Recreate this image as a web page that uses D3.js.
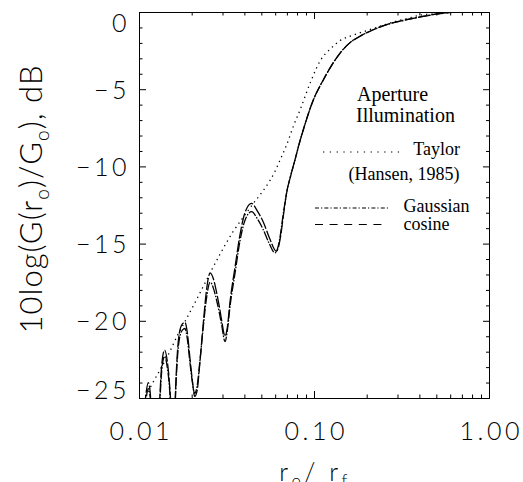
<!DOCTYPE html>
<html>
<head>
<meta charset="utf-8">
<script src="https://cdn.jsdelivr.net/npm/d3@7"></script>
<style>
  body { margin: 0; background: #fff; }
  .tick-label { font-family: Lato, "DejaVu Sans", sans-serif; font-weight: 300; font-size: 25px; letter-spacing: 3.5px; fill: #000; }
  .legend { font-family: "Liberation Serif", "Times New Roman", serif; fill: #000; }
</style>
</head>
<body>
<svg id="chart" width="523" height="482"></svg>
<script>
const xMajor = [0.01, 0.1, 1];
const xMajorLabels = ["0.01", "0.10", "1.00"];
const xMinor = [0.02, 0.03, 0.04, 0.05, 0.06, 0.07, 0.08, 0.09, 0.2, 0.3, 0.4, 0.5, 0.6, 0.7, 0.8, 0.9];
const yMajor = [0, -5, -10, -15, -20, -25];
const yMajorLabels = ["0", "\u22125", "\u221210", "\u221215", "\u221220", "\u221225"];
const yMinor = [-1, -2, -3, -4, -6, -7, -8, -9, -11, -12, -13, -14, -16, -17, -18, -19, -21, -22, -23, -24];

// Taylor (Hansen, 1985), dotted
const taylorR = [0.0100, 0.0108, 0.0115, 0.0130, 0.0147, 0.0165, 0.0182, 0.0205, 0.0223, 0.0255, 0.0290, 0.0346, 0.0394, 0.0450, 0.0510, 0.0561, 0.0600, 0.0639, 0.0698, 0.0762, 0.0832, 0.0949, 0.108, 0.125, 0.141, 0.167, 0.200, 0.238, 0.284, 0.339, 0.404, 0.500, 0.600, 0.800, 1.0];
const taylorDb = [-26.2, -25.0, -24.4, -23.3, -22.2, -21.0, -20.1, -19.0, -18.2, -16.9, -15.7, -14.2, -13.3, -12.4, -11.6, -10.9, -10.3, -9.6, -8.6, -7.4, -6.35, -4.62, -3.2, -2.35, -1.85, -1.5, -1.21, -0.93, -0.65, -0.43, -0.21, -0.11, -0.02, 0, 0];

// Gaussian, dash-dot
const gaussianR = [0.0101, 0.0106, 0.0110, 0.0113, 0.0116, 0.0120, 0.0125, 0.0129, 0.0132, 0.0135, 0.0140, 0.0145, 0.0149, 0.0152, 0.0155, 0.0158, 0.0161, 0.0165, 0.0170, 0.0177, 0.0183, 0.0189, 0.0195, 0.0202, 0.0208, 0.0215, 0.0222, 0.0232, 0.0242, 0.0255, 0.0268, 0.0278, 0.0288, 0.0297, 0.0310, 0.0320, 0.0331, 0.0354, 0.0378, 0.0403, 0.0440, 0.0475, 0.0513, 0.0555, 0.0598, 0.0620, 0.0639, 0.0665, 0.0698, 0.0740, 0.0778, 0.0820, 0.0868, 0.0991, 0.113, 0.1234, 0.141, 0.160, 0.183, 0.218, 0.260, 0.339, 0.420, 0.525, 0.650, 0.800, 1.0];
const gaussianDb = [-31, -27, -25.0, -24.4, -25.0, -28, -33, -28, -25.0, -23.2, -22.3, -23.0, -24.2, -25.8, -29, -29, -25.5, -22.8, -21.2, -20.6, -20.5, -21.2, -22.6, -24.0, -24.7, -24.2, -22.8, -20.6, -18.7, -17.5, -18.0, -18.7, -19.5, -20.3, -21.35, -20.6, -19.1, -16.9, -14.8, -13.5, -12.93, -13.4, -14.1, -15.0, -15.6, -15.3, -14.6, -13.2, -11.7, -10.5, -9.59, -8.6, -7.64, -5.7, -4.4, -3.63, -2.66, -2.0, -1.57, -1.15, -0.82, -0.5, -0.28, -0.11, 0, 0, 0];

// cosine, dashed
const cosineR = [0.0101, 0.0106, 0.0110, 0.0113, 0.0116, 0.0120, 0.0125, 0.0129, 0.0132, 0.0135, 0.0140, 0.0145, 0.0149, 0.0152, 0.0155, 0.0158, 0.0161, 0.0165, 0.0170, 0.0177, 0.0183, 0.0189, 0.0195, 0.0202, 0.0208, 0.0215, 0.0222, 0.0232, 0.0242, 0.0255, 0.0268, 0.0278, 0.0288, 0.0297, 0.0310, 0.0320, 0.0331, 0.0354, 0.0378, 0.0403, 0.0440, 0.0475, 0.0513, 0.0555, 0.0610, 0.0645, 0.0670, 0.0698, 0.0740, 0.0778, 0.0820, 0.0868, 0.0991, 0.113, 0.1234, 0.141, 0.160, 0.183, 0.218, 0.260, 0.339, 0.420, 0.525, 0.650, 0.800, 1.0];
const cosineDb = [-31, -26.6, -24.6, -24.0, -24.7, -28, -33, -27.5, -24.6, -22.8, -21.9, -22.6, -23.9, -25.5, -29, -29, -25.2, -22.4, -20.8, -20.2, -20.1, -20.8, -22.3, -23.9, -24.9, -24.5, -22.9, -20.4, -18.2, -16.9, -17.4, -18.2, -19.1, -20.0, -21.0, -20.4, -18.8, -16.5, -14.4, -13.0, -12.4, -12.9, -13.6, -14.6, -15.5, -14.5, -13.1, -11.7, -10.5, -9.59, -8.6, -7.64, -5.7, -4.4, -3.63, -2.66, -2.0, -1.57, -1.15, -0.82, -0.5, -0.28, -0.11, 0, 0, 0];

const plot = { left: 139, right: 489, top: 12, bottom: 398 };

const svg = d3.select("#chart");

const x = d3.scaleLog().domain([0.01, 1]).range([plot.left, plot.right]);
const y = d3.scaleLinear().domain([-25, 0]).range([plot.bottom, plot.top]);

function drawAxis(axis, tx, ty) {
    const g = svg.append("g")
        .attr("transform", `translate(${tx},${ty})`)
        .call(axis);
    g.select(".domain").attr("stroke", "#000").attr("stroke-width", 1);
    g.selectAll(".tick line").attr("stroke", "#000").attr("stroke-width", 1);
    return g;
}

// bottom
const xBottom = drawAxis(d3.axisBottom(x).tickValues(xMajor).tickSize(-7).tickSizeOuter(0).tickPadding(24)
    .tickFormat((d, i) => xMajorLabels[i]), 0, plot.bottom);
xBottom.selectAll("text").attr("class", "tick-label").attr("font-size", null).attr("font-family", null)
    .attr("dx", "1.75px");
drawAxis(d3.axisBottom(x).tickValues(xMinor).tickSize(-3.5).tickSizeOuter(0).tickFormat(""), 0, plot.bottom);

// top
drawAxis(d3.axisTop(x).tickValues(xMajor).tickSize(-7).tickSizeOuter(0).tickFormat(""), 0, plot.top);
drawAxis(d3.axisTop(x).tickValues(xMinor).tickSize(-3.5).tickSizeOuter(0).tickFormat(""), 0, plot.top);

// left
const yLeft = drawAxis(d3.axisLeft(y).tickValues(yMajor).tickSize(-7).tickSizeOuter(0).tickPadding(9)
    .tickFormat((d, i) => yMajorLabels[i]), plot.left, 0);
yLeft.selectAll("text").attr("class", "tick-label").attr("font-size", null).attr("font-family", null)
    .attr("y", d => d === 0 ? 11 : d === -25 ? -8 : 1);
drawAxis(d3.axisLeft(y).tickValues(yMinor).tickSize(-3.5).tickSizeOuter(0).tickFormat(""), plot.left, 0);

// right
drawAxis(d3.axisRight(y).tickValues(yMajor).tickSize(-6).tickSizeOuter(0).tickFormat(""), plot.right, 0);
drawAxis(d3.axisRight(y).tickValues(yMinor).tickSize(-3).tickSizeOuter(0).tickFormat(""), plot.right, 0);

// axis titles
const yTitle = svg.append("text")
    .attr("class", "tick-label")
    .attr("transform", `translate(42,${(65 + 334) / 2}) rotate(-90)`)
    .attr("text-anchor", "middle")
    .attr("textLength", 268)
    .attr("lengthAdjust", "spacing")
    .style("font-size", "31px")
    .style("letter-spacing", "0px");
yTitle.append("tspan").text("10log(G(r");
yTitle.append("tspan").attr("dy", 7).style("font-size", "19px").text("o");
yTitle.append("tspan").attr("dy", -7).text(")/G");
yTitle.append("tspan").attr("dy", 7).style("font-size", "19px").text("o");
yTitle.append("tspan").attr("dy", -7).text("),  dB");

const xTitle = svg.append("text")
    .attr("class", "tick-label")
    .attr("x", 315)
    .attr("y", 481)
    .attr("text-anchor", "middle");
xTitle.append("tspan").text("r");
xTitle.append("tspan").attr("dy", 6).style("font-size", "17px").text("o");
xTitle.append("tspan").attr("dy", -6).text("/ r");
xTitle.append("tspan").attr("dy", 6).style("font-size", "17px").text("f");

// curves
svg.append("clipPath").attr("id", "plot-clip")
    .append("rect")
    .attr("x", plot.left).attr("y", plot.top)
    .attr("width", plot.right - plot.left).attr("height", plot.bottom - plot.top);

const line = d3.line()
    .x(d => x(d[0]))
    .y(d => y(d[1]))
    .curve(d3.curveMonotoneX);

const series = [
    { name: "taylor", r: taylorR, db: taylorDb, dash: "1.3,4" },
    { name: "gaussian", r: gaussianR, db: gaussianDb, dash: "9,1.5,1.5,1.5" },
    { name: "cosine", r: cosineR, db: cosineDb, dash: "12,2" }
];

svg.append("g").attr("clip-path", "url(#plot-clip)")
    .selectAll("path")
    .data(series)
    .join("path")
    .attr("class", d => `curve ${d.name}`)
    .attr("d", d => line(d.r.map((r, i) => [r, d.db[i]])))
    .attr("fill", "none")
    .attr("stroke", "#000")
    .attr("stroke-width", 1.3)
    .attr("stroke-dasharray", d => d.dash);

// legend
const legend = svg.append("g").attr("class", "legend");
legend.append("text").attr("x", 357).attr("y", 101).style("font-size", "20px").text("Aperture");
legend.append("text").attr("x", 356).attr("y", 122).style("font-size", "20px").text("Illumination");

const legendItems = [
    { label: "Taylor", x1: 323, x2: 400, ly: 152, tx: 460, ty: 155, anchor: "end", dash: "1.3,5.5" },
    { label: "Gaussian", x1: 315, x2: 390, ly: 208, tx: 403.5, ty: 211.5, anchor: "start", dash: "4,2,1.2,2.2" },
    { label: "cosine", x1: 315, x2: 388, ly: 224.5, tx: 403.5, ty: 230, anchor: "start", dash: "8,6.6" }
];
legendItems.forEach(item => {
    legend.append("line")
        .attr("x1", item.x1).attr("x2", item.x2)
        .attr("y1", item.ly).attr("y2", item.ly)
        .attr("stroke", "#000").attr("stroke-width", 1.2)
        .attr("stroke-dasharray", item.dash);
    legend.append("text")
        .attr("x", item.tx).attr("y", item.ty)
        .attr("text-anchor", item.anchor)
        .style("font-size", "18px")
        .text(item.label);
});
legend.append("text").attr("x", 459.5).attr("y", 180).attr("text-anchor", "end")
    .style("font-size", "18px").text("(Hansen, 1985)");
</script>
</body>
</html>
